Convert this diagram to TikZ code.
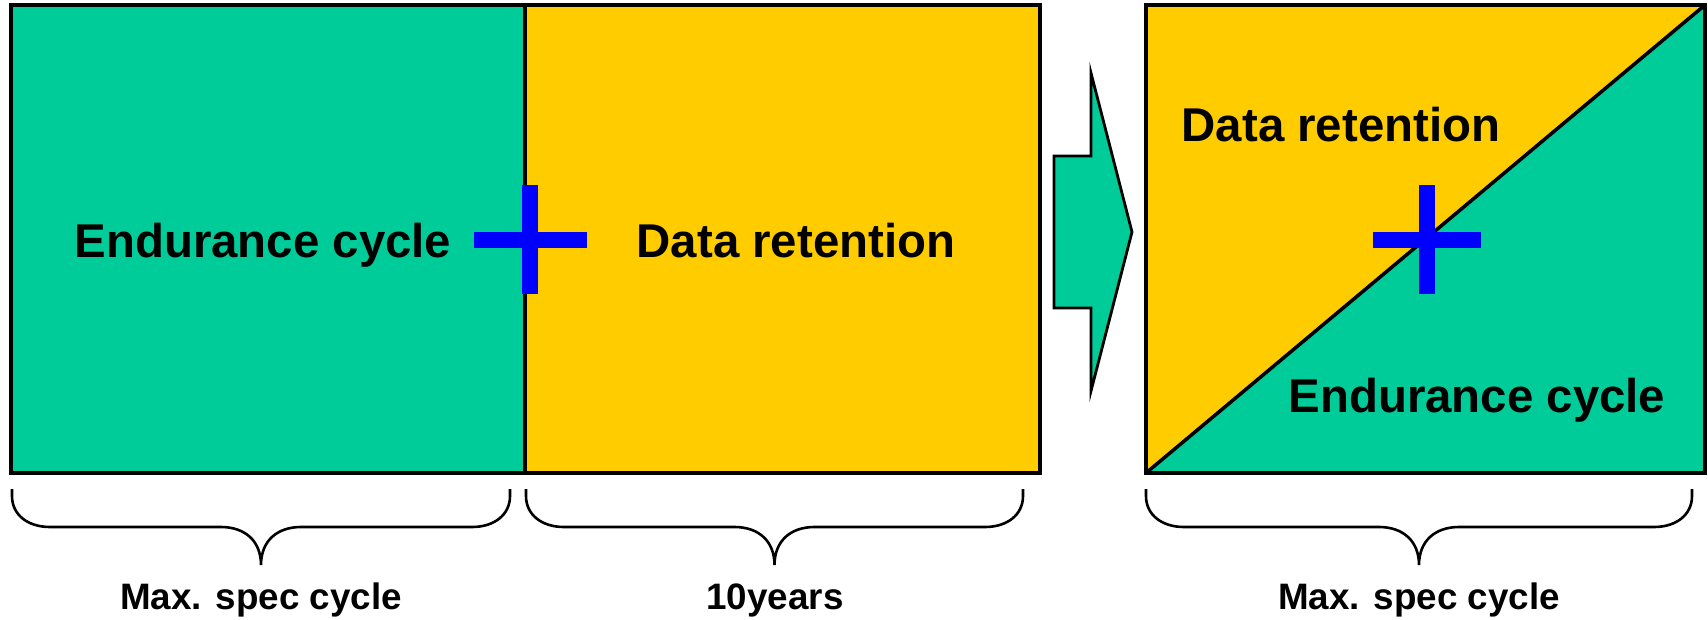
\documentclass[tikz,border=0pt]{standalone}
\usepackage{fontspec}
\setmainfont{Liberation Sans}
\usetikzlibrary{positioning}

\definecolor{vert}{HTML}{00CC99}
\definecolor{jaune}{HTML}{FFCC00}
\definecolor{bleu}{HTML}{0000FF}

\tikzset{
  bloc/.style={draw=black,line width=1.75pt,line join=miter},
  croix/.style={draw=bleu,line width=8pt},
  accolade/.style={draw=black,line width=1.3pt},
  grandtexte/.style={font=\fontsize{23.7}{28}\selectfont\bfseries,anchor=base,inner sep=0pt},
  petittexte/.style={font=\fontsize{18.4}{22}\selectfont\bfseries,anchor=base,inner sep=0pt},
}

%accolade: x debut, x fin (pointe au milieu)
\newcommand{\accolade}[2]{%
  \draw[accolade] (#1,489) -- (#1,496)
    .. controls (#1,515) and (#1+16,527) .. (#1+38,527)
    -- ({(#1+#2)/2-40},527)
    .. controls ({(#1+#2)/2-16},527) and ({(#1+#2)/2},541) .. ({(#1+#2)/2},565)
    .. controls ({(#1+#2)/2},541) and ({(#1+#2)/2+16},527) .. ({(#1+#2)/2+40},527)
    -- (#2-38,527)
    .. controls (#2-16,527) and (#2,515) .. (#2,496) -- (#2,489);
}

\begin{document}
\begin{tikzpicture}[x=0.5pt,y=-0.5pt]
	\useasboundingbox (0,0) rectangle (1708,620);

	%bloc de gauche
	\path[bloc,fill=vert] (11,5) rectangle (525,473);
	\path[bloc,fill=jaune] (525,5) rectangle (1040,473);

	%fleche
	\path[bloc,fill=vert,line width=1.4pt] (1054,156) -- (1091,156) -- (1091,73) -- (1132,232)
		-- (1091,391) -- (1091,308) -- (1054,308) -- cycle;

	%bloc de droite
	\path[fill=jaune] (1146,5) -- (1705,5) -- (1146,473) -- cycle;
	\path[fill=vert] (1146,473) -- (1705,5) -- (1705,473) -- cycle;
	\draw[bloc] (1146,473) -- (1705,5);
	\draw[bloc] (1146,5) rectangle (1705,473);

	%croix
	\draw[croix] (474,240) -- (587,240) (530,185) -- (530,294);
	\draw[croix] (1373,240) -- (1481,240) (1427,185) -- (1427,294);

	%textes
	\node (endurance 1) at (263,258) [grandtexte] {Endurance cycle};
	\node (retention 1) at (796,258) [grandtexte] {Data retention};
	\node (retention 2) at (1341,142) [grandtexte] {Data retention};
	\node (endurance 2) at (1477,412) [grandtexte] {Endurance cycle};

	%accolades
	\accolade{12}{510}
	\accolade{526}{1023}
	\accolade{1146}{1692}

	\node (cycle 1) at (261,609) [petittexte] {Max. spec cycle};
	\node (annees) at (775,609) [petittexte] {10years};
	\node (cycle 2) at (1419,609) [petittexte] {Max. spec cycle};
\end{tikzpicture}
\end{document}
